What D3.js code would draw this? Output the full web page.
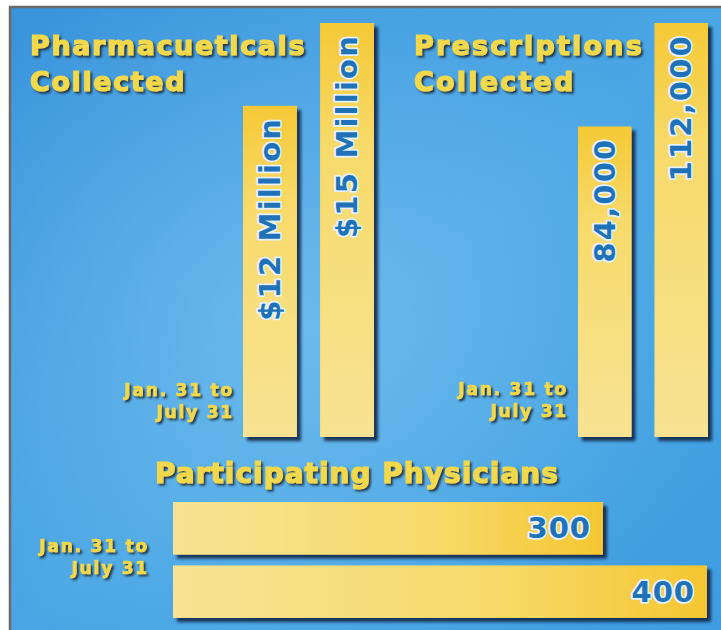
<!DOCTYPE html>
<html>
<head>
<meta charset="utf-8">
<script src="https://cdn.jsdelivr.net/npm/d3@7"></script>
<style>
  body { margin: 0; background: #fff; }
  svg { display: block; font-family: "DejaVu Sans", Verdana, sans-serif; font-weight: bold; }
</style>
</head>
<body>
<div id="chart"></div>
<script>
// Chart data
const periodLabel = ['Jan. 31 to', 'July 31']
const pharmaValues = [12, 15]          // $ million
const pharmaLabels = ['$12 Million', '$15 Million']
const rxValues = [84000, 112000]
const rxLabels = ['84,000', '112,000']
const physValues = [300, 400]
const physLabels = ['300', '400']

const width = 721, height = 630
const svg = d3.select('#chart').append('svg')
  .attr('width', width)
  .attr('height', height)

const defs = svg.append('defs')

// Background gradients
let bg = defs.append('linearGradient').attr('id', 'bg')
  .attr('x1', 0).attr('y1', 0).attr('x2', 1).attr('y2', 1)
bg.append('stop').attr('offset', 0).attr('stop-color', '#3893da')
bg.append('stop').attr('offset', 0.5).attr('stop-color', '#4aa6e4')
bg.append('stop').attr('offset', 1).attr('stop-color', '#3d9de0')

let glow = defs.append('radialGradient').attr('id', 'glow')
  .attr('cx', 0.4).attr('cy', 0.5).attr('r', 0.6)
glow.append('stop').attr('offset', 0).attr('stop-color', '#8fd0f6').attr('stop-opacity', 0.5)
glow.append('stop').attr('offset', 1).attr('stop-color', '#8fd0f6').attr('stop-opacity', 0)

// Bar gradients: pale at the base, rich yellow at the tip
let vGrad = defs.append('linearGradient').attr('id', 'vbar')
  .attr('x1', 0).attr('y1', 1).attr('x2', 0).attr('y2', 0)
vGrad.append('stop').attr('offset', 0).attr('stop-color', '#f8e394')
vGrad.append('stop').attr('offset', 0.7).attr('stop-color', '#f7da6a')
vGrad.append('stop').attr('offset', 1).attr('stop-color', '#f5c935')

let hGrad = defs.append('linearGradient').attr('id', 'hbar')
  .attr('x1', 0).attr('y1', 0).attr('x2', 1).attr('y2', 0)
hGrad.append('stop').attr('offset', 0).attr('stop-color', '#f8e394')
hGrad.append('stop').attr('offset', 0.6).attr('stop-color', '#f7da6a')
hGrad.append('stop').attr('offset', 1).attr('stop-color', '#f5c630')

// Shadows
defs.append('filter').attr('id', 'barShadow')
  .attr('x', '-20%').attr('y', '-20%').attr('width', '150%').attr('height', '150%')
  .append('feDropShadow')
  .attr('dx', 4).attr('dy', 4).attr('stdDeviation', 1.5)
  .attr('flood-color', '#0b2440').attr('flood-opacity', 0.85)

defs.append('filter').attr('id', 'textShadow')
  .attr('x', '-10%').attr('y', '-30%').attr('width', '130%').attr('height', '170%')
  .append('feDropShadow')
  .attr('dx', 2).attr('dy', 2).attr('stdDeviation', 1)
  .attr('flood-color', '#1c2c38').attr('flood-opacity', 0.9)

// Panel
svg.append('rect')
  .attr('x', 10).attr('y', 7)
  .attr('width', width).attr('height', height)
  .attr('fill', 'url(#bg)')
  .attr('stroke', '#6b6868').attr('stroke-width', 2.5)
svg.append('rect')
  .attr('x', 11).attr('y', 8)
  .attr('width', width).attr('height', height)
  .attr('fill', 'url(#glow)')

const yellow = '#f2d94c'
const blue = '#1f72b8'

// Title helper
const addTitle = (lines, x, y0, size, spacing, gap) => {
  let t = svg.append('text')
    .attr('class', 'title')
    .attr('x', x).attr('y', y0)
    .attr('fill', yellow)
    .attr('stroke', yellow)
    .attr('stroke-width', 1.2)
    .attr('font-size', size)
    .attr('letter-spacing', spacing)
    .attr('filter', 'url(#textShadow)')
  lines.forEach((l, i) => {
    t.append('tspan').attr('x', x).attr('dy', i === 0 ? 0 : gap).text(l)
  })
}

const addPeriod = (xRight, y0) => {
  let t = svg.append('text')
    .attr('text-anchor', 'end')
    .attr('x', xRight).attr('y', y0)
    .attr('fill', yellow)
    .attr('stroke', yellow)
    .attr('stroke-width', 0.7)
    .attr('font-size', 17)
    .attr('letter-spacing', 1.8)
    .attr('filter', 'url(#textShadow)')
  periodLabel.forEach((l, i) => {
    t.append('tspan').attr('x', xRight).attr('dy', i === 0 ? 0 : 22).text(l)
  })
}

const valueText = sel => sel
  .attr('fill', blue)
  .attr('stroke', '#e3f2ff')
  .attr('stroke-width', 3.5)
  .attr('stroke-linejoin', 'round')
  .attr('paint-order', 'stroke')

// Vertical bar group
const verticalGroup = (values, labels, range, baseY, topY) => {
  let x = d3.scaleBand()
    .domain(d3.range(values.length))
    .range(range)
    .paddingInner(0.3)
  let y = d3.scaleLinear()
    .domain([0, d3.max(values)])
    .range([baseY, topY])

  let g = svg.append('g')
  g.selectAll('rect')
    .data(values)
    .join('rect')
    .attr('x', (d, i) => x(i))
    .attr('y', d => y(d))
    .attr('width', x.bandwidth())
    .attr('height', d => baseY - y(d))
    .attr('fill', 'url(#vbar)')
    .attr('filter', 'url(#barShadow)')

  g.selectAll('text')
    .data(values)
    .join('text')
    .attr('transform', (d, i) =>
      `translate(${x(i) + x.bandwidth() / 2 + 10}, ${y(d) + 11}) rotate(-90)`)
    .attr('text-anchor', 'end')
    .attr('font-size', 29)
    .attr('letter-spacing', 2.2)
    .call(valueText)
    .text((d, i) => labels[i])
}

addTitle(['Pharmacueticals', 'Collected'], 30, 55, 27, 1.6, 36)
addTitle(['Prescriptions', 'Collected'], 414, 55, 27, 2.2, 36)
verticalGroup(pharmaValues, pharmaLabels, [243, 374], 437, 23)
verticalGroup(rxValues, rxLabels, [578, 708], 437, 23)
addPeriod(234, 396)
addPeriod(568, 395)

// Horizontal bars
addTitle(['Participating Physicians'], 155, 483, 28, 1, 0)

let yH = d3.scaleBand()
  .domain(d3.range(physValues.length))
  .range([502, 618])
  .paddingInner(0.17)
let xH = d3.scaleLinear()
  .domain([0, d3.max(physValues)])
  .range([291, 707])
const barLeft = 173

let hg = svg.append('g')
hg.selectAll('rect')
  .data(physValues)
  .join('rect')
  .attr('x', barLeft)
  .attr('y', (d, i) => yH(i))
  .attr('width', d => xH(d) - barLeft)
  .attr('height', yH.bandwidth())
  .attr('fill', 'url(#hbar)')
  .attr('filter', 'url(#barShadow)')

hg.selectAll('text')
  .data(physValues)
  .join('text')
  .attr('x', d => xH(d) - 12)
  .attr('y', (d, i) => yH(i) + yH.bandwidth() / 2 + 10)
  .attr('text-anchor', 'end')
  .attr('font-size', 29)
  .attr('letter-spacing', 1)
  .call(valueText)
  .text((d, i) => physLabels[i])

addPeriod(149, 552)
</script>
</body>
</html>
